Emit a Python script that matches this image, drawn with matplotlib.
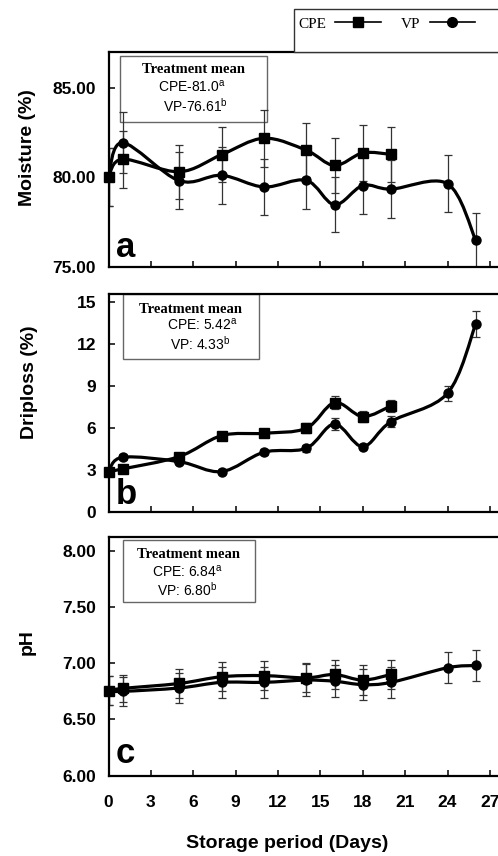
import numpy as np
import matplotlib.pyplot as plt
from matplotlib.path import Path
from matplotlib.patches import PathPatch, Rectangle
from matplotlib.lines import Line2D

plt.rcParams["font.family"] = ["Liberation Sans", "DejaVu Sans"]
plt.rcParams["mathtext.default"] = "regular"

# storage days
cpe_days = [0, 1, 5, 8, 11, 14, 16, 18, 20]
vp_days = [0, 1, 5, 8, 11, 14, 16, 18, 20, 24, 26]

# moisture (%)
cpe_moist = [80.0, 81.0, 80.3, 81.25, 82.17, 81.5, 80.65, 81.35, 81.27]
cpe_moist_err = [1.6, 1.6, 1.5, 1.55, 1.6, 1.5, 1.55, 1.55, 1.55]
vp_moist = [80.0, 81.92, 79.8, 80.1, 79.45, 79.82, 78.46, 79.53, 79.33, 79.63, 76.48]
vp_moist_err = [1.6, 1.7, 1.6, 1.6, 1.55, 1.6, 1.55, 1.6, 1.6, 1.6, 1.5]

# driploss (%)
cpe_drip = [2.9, 3.09, 3.97, 5.46, 5.63, 5.99, 7.81, 6.82, 7.58]
cpe_drip_err = [0.2, 0.2, 0.2, 0.25, 0.25, 0.35, 0.45, 0.4, 0.4]
vp_drip = [2.9, 3.92, 3.61, 2.9, 4.28, 4.56, 6.29, 4.68, 6.46, 8.48, 13.42]
vp_drip_err = [0.2, 0.2, 0.2, 0.2, 0.2, 0.25, 0.4, 0.2, 0.4, 0.55, 0.95]

# pH
cpe_ph = [6.756, 6.776, 6.82, 6.88, 6.89, 6.87, 6.90, 6.85, 6.90]
cpe_ph_err = [0.13, 0.12, 0.13, 0.13, 0.13, 0.13, 0.13, 0.13, 0.13]
vp_ph = [6.756, 6.75, 6.78, 6.83, 6.83, 6.85, 6.84, 6.81, 6.83, 6.96, 6.98]
vp_ph_err = [0.13, 0.13, 0.13, 0.14, 0.14, 0.14, 0.14, 0.14, 0.14, 0.14, 0.14]

panels = [
    ("a", "Moisture (%)", cpe_moist, cpe_moist_err, vp_moist, vp_moist_err,
     (75, 87), [75, 80, 85], "{:.2f}",
     ["CPE-81.0$^{a}$", "VP-76.61$^{b}$"]),
    ("b", "Driploss (%)", cpe_drip, cpe_drip_err, vp_drip, vp_drip_err,
     (0, 15.55), [0, 3, 6, 9, 12, 15], "{:.0f}",
     ["CPE: 5.42$^{a}$", "VP: 4.33$^{b}$"]),
    ("c", "pH", cpe_ph, cpe_ph_err, vp_ph, vp_ph_err,
     (6, 8.12), [6.0, 6.5, 7.0, 7.5, 8.0], "{:.2f}",
     ["CPE: 6.84$^{a}$", "VP: 6.80$^{b}$"]),
]

W, H = 498, 856
fig = plt.figure(figsize=(W / 100, H / 100), dpi=100)

# axes boxes in pixels: (top, bottom)
boxes = [(51.7, 266.7), (294, 512.3), (537.3, 775.7)]
x0_px, x1_px = 108.5, 504


def smooth_path(x, y):
    # Catmull-Rom style smoothing like a spreadsheet "smoothed line"
    pts = np.column_stack([x, y]).astype(float)
    n = len(pts)
    verts = [pts[0]]
    codes = [Path.MOVETO]
    for i in range(n - 1):
        p0 = pts[max(i - 1, 0)]
        p1 = pts[i]
        p2 = pts[i + 1]
        p3 = pts[min(i + 2, n - 1)]
        c1 = p1 + (p2 - p0) / 6.0
        c2 = p2 - (p3 - p1) / 6.0
        verts += [c1, c2, p2]
        codes += [Path.CURVE4] * 3
    return Path(verts, codes)


text_cfg = {
    "a": dict(box=(0.029, 0.674, 0.371, 0.307), title=(0.214, 0.918),
              lines=[(0.212, 0.840, "center"), (0.221, 0.747, "center")],
              letter_y=0.047),
    "b": dict(box=(0.036, 0.701, 0.344, 0.299), title=(0.207, 0.931),
              lines=[(0.147, 0.858, "left"), (0.155, 0.770, "left")],
              letter_y=0.038),
    "c": dict(box=(0.036, 0.727, 0.335, 0.262), title=(0.2035, 0.929),
              lines=[(0.200, 0.856, "center"), (0.198, 0.779, "center")],
              letter_y=0.052),
}
ylabel_pos = [(27, 147.5), (30, 382.5), (27, 642.5)]

for k, (letter, ylab, cy, ce, vy, ve, ylim, yt, fmt, means) in enumerate(panels):
    top, bot = boxes[k]
    ax = fig.add_axes([x0_px / W, (H - bot) / H, (x1_px - x0_px) / W, (bot - top) / H])
    ax.set_xlim(0, 28)
    ax.set_ylim(*ylim)
    for s in ["left", "bottom", "top"]:
        ax.spines[s].set_linewidth(1.6)
    ax.spines["right"].set_visible(False)
    ax.set_xticks(range(0, 28, 3))
    ax.set_yticks(yt)
    ax.set_yticklabels([fmt.format(v) for v in yt])
    ax.tick_params(direction="in", length=4, width=1.1, labelsize=12.5,
                   top=False, right=False)
    ax.tick_params(axis="y", pad=9)
    ax.tick_params(axis="x", pad=14)
    for lab in ax.get_xticklabels() + ax.get_yticklabels():
        lab.set_fontweight("bold")
    if k < 2:
        ax.set_xticklabels([])

    cfg = text_cfg[letter]
    bx, by, bw, bh = cfg["box"]
    ax.add_patch(Rectangle((bx, by), bw, bh, transform=ax.transAxes,
                           facecolor="none", edgecolor="#666666", lw=1.0, zorder=1))

    for d, v, e, mk in [(cpe_days, cy, ce, "s"), (vp_days, vy, ve, "o")]:
        ax.errorbar(d, v, yerr=e, fmt="none", ecolor="#333333", elinewidth=0.9,
                    capsize=3, capthick=0.9, zorder=2)
        ax.add_patch(PathPatch(smooth_path(d, v), facecolor="none",
                               edgecolor="black", lw=2.3, zorder=3))
        ax.plot(d, v, linestyle="none", marker=mk, color="black",
                markersize=7 if mk == "s" else 6.5, zorder=4, clip_on=False)

    ax.text(*cfg["title"], "Treatment mean", transform=ax.transAxes,
            ha="center", va="center", fontsize=10.5, fontweight="bold",
            family="Liberation Serif", zorder=6)
    for (tx, ty, ha), s in zip(cfg["lines"], means):
        ax.text(tx, ty, s, transform=ax.transAxes, ha=ha, va="center",
                fontsize=10, zorder=6)
    ax.text(0.019, cfg["letter_y"], letter, transform=ax.transAxes,
            ha="left", va="baseline", fontsize=25, fontweight="bold", zorder=6)

    lx, ly = ylabel_pos[k]
    fig.text(lx / W, 1 - ly / H, ylab, rotation=90, ha="center", va="center",
             fontsize=14, fontweight="bold")

fig.text(286.7 / W, 1 - 843.3 / H, "Storage period (Days)", ha="center",
         va="center", fontsize=14, fontweight="bold")

# legend box at the top
fig.add_artist(Rectangle((294 / W, 1 - 52.3 / H), 220 / W, 43 / H,
                         transform=fig.transFigure, facecolor="white",
                         edgecolor="#333333", lw=1.0, zorder=1))
handles = [Line2D([], [], color="black", lw=1.2, marker="s", markersize=7),
           Line2D([], [], color="black", lw=1.2, marker="o", markersize=7)]
fig.legend(handles, ["CPE", "VP"], ncol=2, loc="center left",
           bbox_to_anchor=(298 / W, 1 - 24 / H), frameon=False,
           markerfirst=False, handlelength=3.0, handletextpad=0.6,
           columnspacing=1.3, borderaxespad=0, borderpad=0,
           prop={"family": "Liberation Serif", "size": 11})

fig.savefig("out.png", dpi=100)
